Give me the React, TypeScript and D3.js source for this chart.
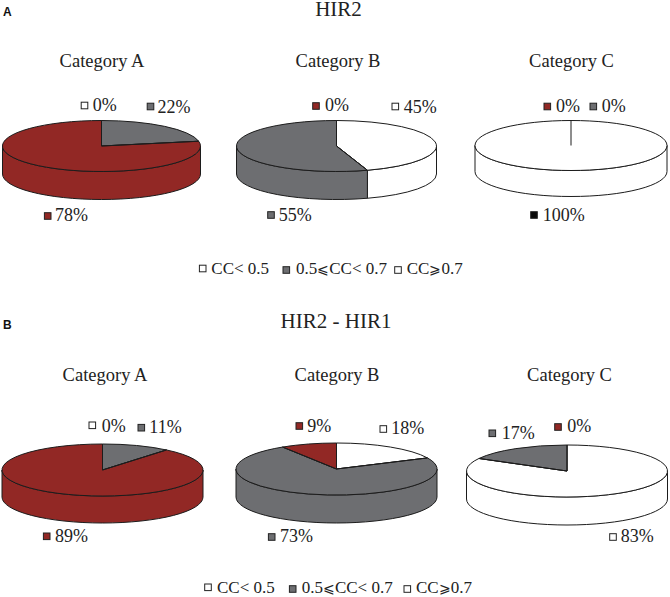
import * as d3 from "d3";

// values go clockwise from 12 o'clock
const categories = ["Category A", "Category B", "Category C"];
const panelLetters = ["A", "B"];
const panelTitles = ["HIR2", "HIR2 - HIR1"];
const legendLabels = ["CC< 0.5", "0.5⩽CC< 0.7", "CC⩾0.7"];
const legendKeys = ["white", "gray", "white"];

const hir2Values = [[22, 78, 0], [45, 55, 0], [100, 0, 0]];
const hir2Keys = [["gray", "red", "white"], ["white", "gray", "red"], ["white", "red", "gray"]];
const diffValues = [[11, 89, 0], [18, 73, 9], [83, 17, 0]];
const diffKeys = [["gray", "red", "white"], ["white", "gray", "red"], ["white", "gray", "red"]];

const colors: Record<string, string> = { white: "#ffffff", gray: "#6d6e71", red: "#922825", black: "#0a0a0a" };
const lineColor = "#1c1c1c";
const serif = "'Liberation Serif', 'Times New Roman', serif";

// layout only
const titlePos = [{ x: 338.5, y: 16 }, { x: 336, y: 328 }];
const letterPos = [{ x: 3, y: 16 }, { x: 3, y: 329 }];
const categoryPos = [
  [{ x: 102, y: 67 }, { x: 338, y: 67 }, { x: 571.5, y: 67 }],
  [{ x: 105, y: 381 }, { x: 337, y: 381 }, { x: 569.5, y: 381 }],
];
const pieGeom = [
  [
    { cx: 101.5, cy: 146, rx: 99, ry: 25.5, depth: 28 },
    { cx: 336.5, cy: 146, rx: 100, ry: 25.5, depth: 28 },
    { cx: 571, cy: 145.5, rx: 96, ry: 25, depth: 26 },
  ],
  [
    { cx: 102.5, cy: 470, rx: 100.5, ry: 26, depth: 27 },
    { cx: 336.5, cy: 469, rx: 100.5, ry: 26, depth: 28 },
    { cx: 567, cy: 471, rx: 100.5, ry: 26, depth: 28 },
  ],
];

type Tag = { label: string; key: string; sx: number; sy: number; tx: number; ty: number };
const tag = (label: string, key: string, sx: number, sy: number, tx: number, ty: number): Tag => ({ label, key, sx, sy, tx, ty });

const tags: Tag[] = [
  tag("0%", "white", 84.5, 105.5, 92.7, 111),
  tag("22%", "gray", 150.5, 106.5, 157.5, 113),
  tag("78%", "red", 47.7, 216, 55, 221),
  tag("0%", "red", 316, 106, 325, 111),
  tag("45%", "white", 395.3, 106.5, 403.7, 113),
  tag("55%", "gray", 271, 215, 278.7, 221),
  tag("0%", "red", 547.3, 106.5, 556, 112),
  tag("0%", "gray", 593.3, 106.5, 601.7, 112),
  tag("100%", "black", 534, 215, 542.7, 221),
  tag("0%", "white", 92.3, 425.3, 101.7, 431.7),
  tag("11%", "gray", 141.3, 427.7, 149.3, 433.3),
  tag("89%", "red", 46.7, 536.3, 55, 542.3),
  tag("9%", "red", 299.3, 426, 307.3, 431.7),
  tag("18%", "white", 383.3, 429, 391.3, 434),
  tag("73%", "gray", 271.7, 537, 280, 542.3),
  tag("17%", "gray", 492.3, 433.3, 501.7, 439),
  tag("0%", "red", 558, 427, 567.3, 432.3),
  tag("83%", "white", 613, 537, 620.7, 542.3),
];

const legendPos = [
  [
    { sx: 202.7, sy: 268.5, tx: 211.3, ty: 274 },
    { sx: 286.3, sy: 270, tx: 296, ty: 274 },
    { sx: 398, sy: 270, tx: 406.7, ty: 274 },
  ],
  [
    { sx: 208, sy: 587.3, tx: 217, ty: 593 },
    { sx: 292.7, sy: 589, tx: 301.7, ty: 593 },
    { sx: 407.3, sy: 589, tx: 416, ty: 593 },
  ],
];

const pieGen = d3.pie<number>().sort(null).value(d => d);
const arcGen = d3.arc<d3.PieArcDatum<number>>().innerRadius(0).outerRadius(1);

function Pie({ values, keys, geom }: { values: number[]; keys: string[]; geom: typeof pieGeom[0][0] }) {
  const { cx, cy, rx, ry, depth } = geom;
  const slices = pieGen(values);
  const pt = (a: number) => {
    const [x, y] = d3.pointRadial(a, 1);
    return [cx + rx * x, cy + ry * y];
  };

  // front wall, only the part between 3 and 9 o'clock shows
  const wall = (s: d3.PieArcDatum<number>) => {
    const a0 = Math.max(s.startAngle, Math.PI / 2);
    const a1 = Math.min(s.endAngle, (3 * Math.PI) / 2);
    if (a1 <= a0) return null;
    const [x0, y0] = pt(a0);
    const [x1, y1] = pt(a1);
    return `M${x0},${y0}A${rx},${ry} 0 0 1 ${x1},${y1}L${x1},${y1 + depth}A${rx},${ry} 0 0 0 ${x0},${y0 + depth}Z`;
  };

  // one spoke per distinct angle, empty slices would stack up otherwise
  const spokes = Array.from(new Set(slices.map(s => +(s.startAngle % (2 * Math.PI)).toFixed(4))));

  return (
    <g stroke={lineColor} strokeWidth={1} strokeLinejoin="round">
      {slices.map((s, i) => {
        const d = wall(s);
        return d ? <path key={i} d={d} fill={colors[keys[i]]} /> : null;
      })}
      {slices.map((s, i) =>
        s.value > 0 ? (
          <path
            key={i}
            d={arcGen(s) || ""}
            transform={`translate(${cx},${cy}) scale(${rx},${ry})`}
            fill={colors[keys[i]]}
            vectorEffect="non-scaling-stroke"
          />
        ) : null
      )}
      {spokes.map((a, i) => {
        const [x, y] = pt(a);
        return <line key={i} x1={cx} y1={cy} x2={x} y2={y} />;
      })}
    </g>
  );
}

function Swatch({ x, y, fill }: { x: number; y: number; fill: string }) {
  return <rect x={x - 3.3} y={y - 3.3} width={6.6} height={6.6} fill={fill} stroke="#222" strokeWidth={1} />;
}

// the slanted signs come from a fallback font and run wide, so they get a smaller size
function LegendText({ label }: { label: string }) {
  return (
    <>
      {label.split(/([⩽⩾])/).map((part, i) =>
        i % 2 ? (
          <tspan key={i} fontSize={13.5}>
            {part}
          </tspan>
        ) : (
          <tspan key={i}>{part}</tspan>
        )
      )}
    </>
  );
}

export default function App() {
  const panels = [
    { values: hir2Values, keys: hir2Keys },
    { values: diffValues, keys: diffKeys },
  ];
  return (
    <svg width={670} height={597} style={{ position: "absolute", left: 0, top: 0, background: "#fff" }}>
      {panels.map((p, pi) => (
        <g key={pi}>
          <text x={letterPos[pi].x} y={letterPos[pi].y} fontFamily="'Liberation Sans', Arial, sans-serif" fontWeight="bold" fontSize={12} fill="#111">
            {panelLetters[pi]}
          </text>
          <text x={titlePos[pi].x} y={titlePos[pi].y} textAnchor="middle" fontFamily={serif} fontSize={21} fill="#222">
            {panelTitles[pi]}
          </text>
          {categories.map((c, i) => (
            <g key={c}>
              <text x={categoryPos[pi][i].x} y={categoryPos[pi][i].y} textAnchor="middle" fontFamily={serif} fontSize={18.5} fill="#222">
                {c}
              </text>
              <Pie values={p.values[i]} keys={p.keys[i]} geom={pieGeom[pi][i]} />
            </g>
          ))}
          {legendLabels.map((l, i) => (
            <g key={l}>
              <Swatch x={legendPos[pi][i].sx} y={legendPos[pi][i].sy} fill={colors[legendKeys[i]]} />
              <text x={legendPos[pi][i].tx} y={legendPos[pi][i].ty} fontFamily={serif} fontSize={17} fill="#222">
                <LegendText label={l} />
              </text>
            </g>
          ))}
        </g>
      ))}
      {tags.map((t, i) => (
        <g key={i}>
          <Swatch x={t.sx} y={t.sy} fill={colors[t.key]} />
          <text x={t.tx} y={t.ty} fontFamily={serif} fontSize={18} fill="#222">
            {t.label}
          </text>
        </g>
      ))}
    </svg>
  );
}
